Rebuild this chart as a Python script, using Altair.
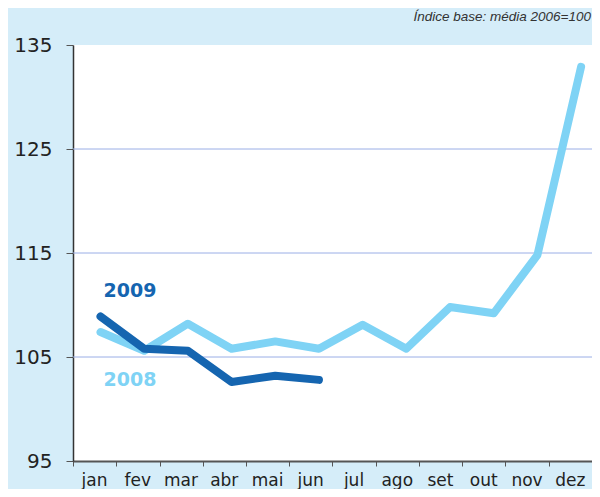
import json
import altair as alt
import pandas as pd

months = ["jan", "fev", "mar", "abr", "mai", "jun", "jul", "ago", "set", "out", "nov", "dez"]
v2008 = [107.4, 105.6, 108.2, 105.8, 106.5, 105.8, 108.1, 105.8, 109.8, 109.2, 114.8, 132.9]
v2009 = [108.9, 105.8, 105.6, 102.6, 103.2, 102.8]
series_names = ["2008", "2009"]
series_colors = ["#7fd3f5", "#1565b0"]
label_values = [102.8, 111.3]
grid_values = [105, 115, 125]
y_ticks = [95, 105, 115, 125, 135]
header_text = "Índice base: média 2006=100"

rows = []
for i, v in enumerate(v2008):
    rows.append({"i": i, "m": months[i], "s": "2008", "v": v})
for i, v in enumerate(v2009):
    rows.append({"i": i, "m": months[i], "s": "2009", "v": v})
df = pd.DataFrame(rows)

lab_df = pd.DataFrame({"i": [0, 0], "s": series_names, "v": label_values})
grid_df = pd.DataFrame({"g": grid_values})
head_df = pd.DataFrame({"t": [header_text]})

W, H = 519, 416
x0, step = -0.63, 0.99
bounds = [round(x0 + k * step, 4) for k in range(13)]
xscale = alt.Scale(domain=[bounds[0], bounds[-1]], nice=False, zero=False)
yscale = alt.Scale(domain=[95, 135], nice=False, zero=False)
cscale = alt.Scale(domain=series_names, range=series_colors)

label_expr = (
    json.dumps(months) + f"[round((datum.value - ({x0})) / {step})] || ''"
)

xaxis = alt.Axis(
    values=bounds, labelExpr=label_expr, labelOffset=21, tickSize=5,
    domainColor="#555", tickColor="#555", domainWidth=2, labelFontSize=17,
    labelFont="DejaVu Sans", labelColor="#222", title=None, grid=False,
    labelFlush=False, labelOverlap=False, labelPadding=6,
)
yaxis = alt.Axis(
    values=y_ticks, tickSize=7, domainColor="#333", tickColor="#555",
    domainWidth=1.5, labelFontSize=20, labelFont="DejaVu Sans", labelColor="#222",
    title=None, grid=False, labelPadding=14, labelFlush=False,
)

grid = alt.Chart(grid_df).mark_rule(color="#9aaee6", strokeWidth=1).encode(
    y=alt.Y("g:Q", scale=yscale, axis=yaxis)
)

lines = alt.Chart(df).mark_line(strokeWidth=8, strokeCap="round", strokeJoin="round").encode(
    x=alt.X("i:Q", scale=xscale, axis=xaxis),
    y=alt.Y("v:Q", scale=yscale, axis=yaxis),
    color=alt.Color("s:N", scale=cscale, legend=None),
    order=alt.Order("i:Q"),
    detail="s:N",
)

labels = alt.Chart(lab_df).mark_text(
    align="left", baseline="middle", dx=3, fontSize=19, fontWeight="bold", font="DejaVu Sans"
).encode(
    x=alt.X("i:Q", scale=xscale),
    y=alt.Y("v:Q", scale=yscale),
    text="s:N",
    color=alt.Color("s:N", scale=cscale, legend=None),
)

header = alt.Chart(head_df).mark_text(
    align="right", baseline="middle", fontSize=13.5, fontStyle="italic",
    font="Liberation Sans", color="#333"
).encode(x=alt.value(W - 1), y=alt.value(-28), text="t:N")

chart = alt.layer(grid, lines, labels, header).properties(
    width=W, height=H,
    padding={"left": 65, "top": 37, "right": 0, "bottom": 28},
    autosize=alt.AutoSizeParams(type="none"),
    background="#d5edf9",
).configure_view(fill="white", strokeWidth=0)

chart.save("out.html", embed_options={"renderer": "svg", "actions": False})
